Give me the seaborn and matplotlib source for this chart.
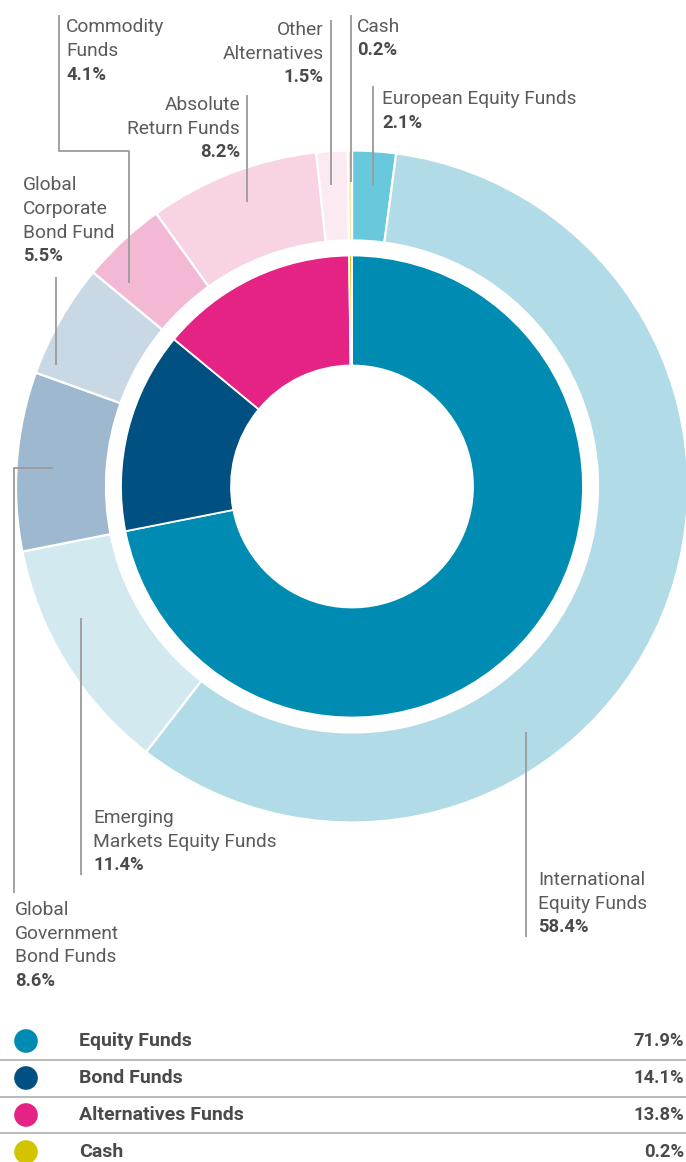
import numpy as np
import pandas as pd
import matplotlib
matplotlib.use("Agg")
import matplotlib.pyplot as plt
import seaborn as sns

# ---- data -------------------------------------------------------------
fund_labels = [
    "European Equity Funds",
    "International\nEquity Funds",
    "Emerging\nMarkets Equity Funds",
    "Global\nGovernment\nBond Funds",
    "Global\nCorporate\nBond Fund",
    "Commodity\nFunds",
    "Absolute\nReturn Funds",
    "Other\nAlternatives",
    "Cash",
]
fund_values = [2.1, 58.4, 11.4, 8.6, 5.5, 4.1, 8.2, 1.5, 0.2]
fund_colors = ["#68c8dc", "#b1dbe6", "#d2e9f0", "#9eb8d0", "#c9d8e5",
               "#f3b9d4", "#f7d3e3", "#fceaf2", "#f0e6a0"]

class_labels = ["Equity Funds", "Bond Funds", "Alternatives Funds", "Cash"]
class_values = [71.9, 14.1, 13.8, 0.2]
class_colors = ["#008bb2", "#015082", "#e52385", "#d4c400"]

# ---- canvas (pixel-based coordinates, y measured from the top) --------
W, H = 686, 1162
sns.set_theme(style="white")
plt.rcParams["font.family"] = ["Roboto", "DejaVu Sans"]

fig = plt.figure(figsize=(W / 100, H / 100), dpi=100)
ax = fig.add_axes([0, 0, 1, 1])


def Y(y):
    return H - y


cx, cy = 352, 486.5
R_OUT, W_OUT = 336, 90
R_IN, W_IN = 231, 110

ax.pie(fund_values, colors=fund_colors, radius=R_OUT, center=(cx, Y(cy)),
       startangle=90, counterclock=False,
       wedgeprops=dict(width=W_OUT, edgecolor="white", linewidth=1.6))
ax.pie(class_values, colors=class_colors, radius=R_IN, center=(cx, Y(cy)),
       startangle=90, counterclock=False,
       wedgeprops=dict(width=W_IN, edgecolor="white", linewidth=1.3))

ax.set_xlim(0, W)
ax.set_ylim(0, H)
ax.set_aspect("equal")
ax.axis("off")

# ---- callouts ---------------------------------------------------------
LINE_C = "#9b9b9b"
NAME_C = "#5b5b5b"
PCT_C = "#4a4a4a"
FS_NAME = 13.8
FS_PCT = 13.2
STEP = 23.6

# (x, first baseline, ha, leader polyline) in the same order as fund_labels
callouts = [
    (382, 104, "left", [(373, 86), (373, 185)]),
    (538, 885, "left", [(526, 732), (526, 937)]),
    (93, 823, "left", [(81, 618), (81, 875)]),
    (15, 915, "left", [(53, 467.5), (14, 467.5), (14, 893)]),
    (23, 190.5, "left", [(55.5, 277), (55.5, 365)]),
    (66, 32.5, "left", [(59, 15), (59, 151), (129, 151), (129, 283)]),
    (240, 110, "right", [(246.5, 95), (246.5, 202)]),
    (323.5, 35, "right", [(331, 20), (331, 185)]),
    (357, 31.5, "left", [(350.7, 15), (350.7, 182)]),
]

for label, value, (tx, ty, ha, path) in zip(fund_labels, fund_values, callouts):
    xs = [p[0] for p in path]
    ys = [Y(p[1]) for p in path]
    ax.plot(xs, ys, color=LINE_C, lw=1.3, solid_capstyle="butt", zorder=3)
    lines = label.split("\n")
    for i, line in enumerate(lines):
        ax.text(tx, Y(ty + i * STEP), line, ha=ha, va="baseline",
                fontsize=FS_NAME, color=NAME_C)
    ax.text(tx, Y(ty + len(lines) * STEP), f"{value:.1f}%", ha=ha,
            va="baseline", fontsize=FS_PCT, color=PCT_C, fontweight="bold")

# ---- summary table ----------------------------------------------------
row_base = [1046, 1083, 1120, 1157]
row_dot = [1041, 1078, 1115, 1152]
summary = pd.DataFrame({
    "label": class_labels,
    "value": class_values,
    "x": [26] * len(class_labels),
    "y": [Y(v) for v in row_dot],
})
sns.scatterplot(data=summary, x="x", y="y", hue="label",
                palette=dict(zip(class_labels, class_colors)),
                s=290, linewidth=0, legend=False, ax=ax, clip_on=False)
ax.set_xlabel("")
ax.set_ylabel("")
ax.axis("off")

for lab, val, yb in zip(class_labels, class_values, row_base):
    ax.text(79, Y(yb), lab, ha="left", va="baseline", fontsize=14.0,
            color=PCT_C, fontweight="bold")
    ax.text(684, Y(yb), f"{val:.1f}%", ha="right", va="baseline",
            fontsize=FS_PCT, color=PCT_C, fontweight="bold")

for ysep in [1060, 1097, 1133]:
    ax.plot([0, W], [Y(ysep), Y(ysep)], color="#b4b4b4", lw=1.3)

ax.set_xlim(0, W)
ax.set_ylim(0, H)

fig.savefig("out.png", dpi=100, facecolor="white")
